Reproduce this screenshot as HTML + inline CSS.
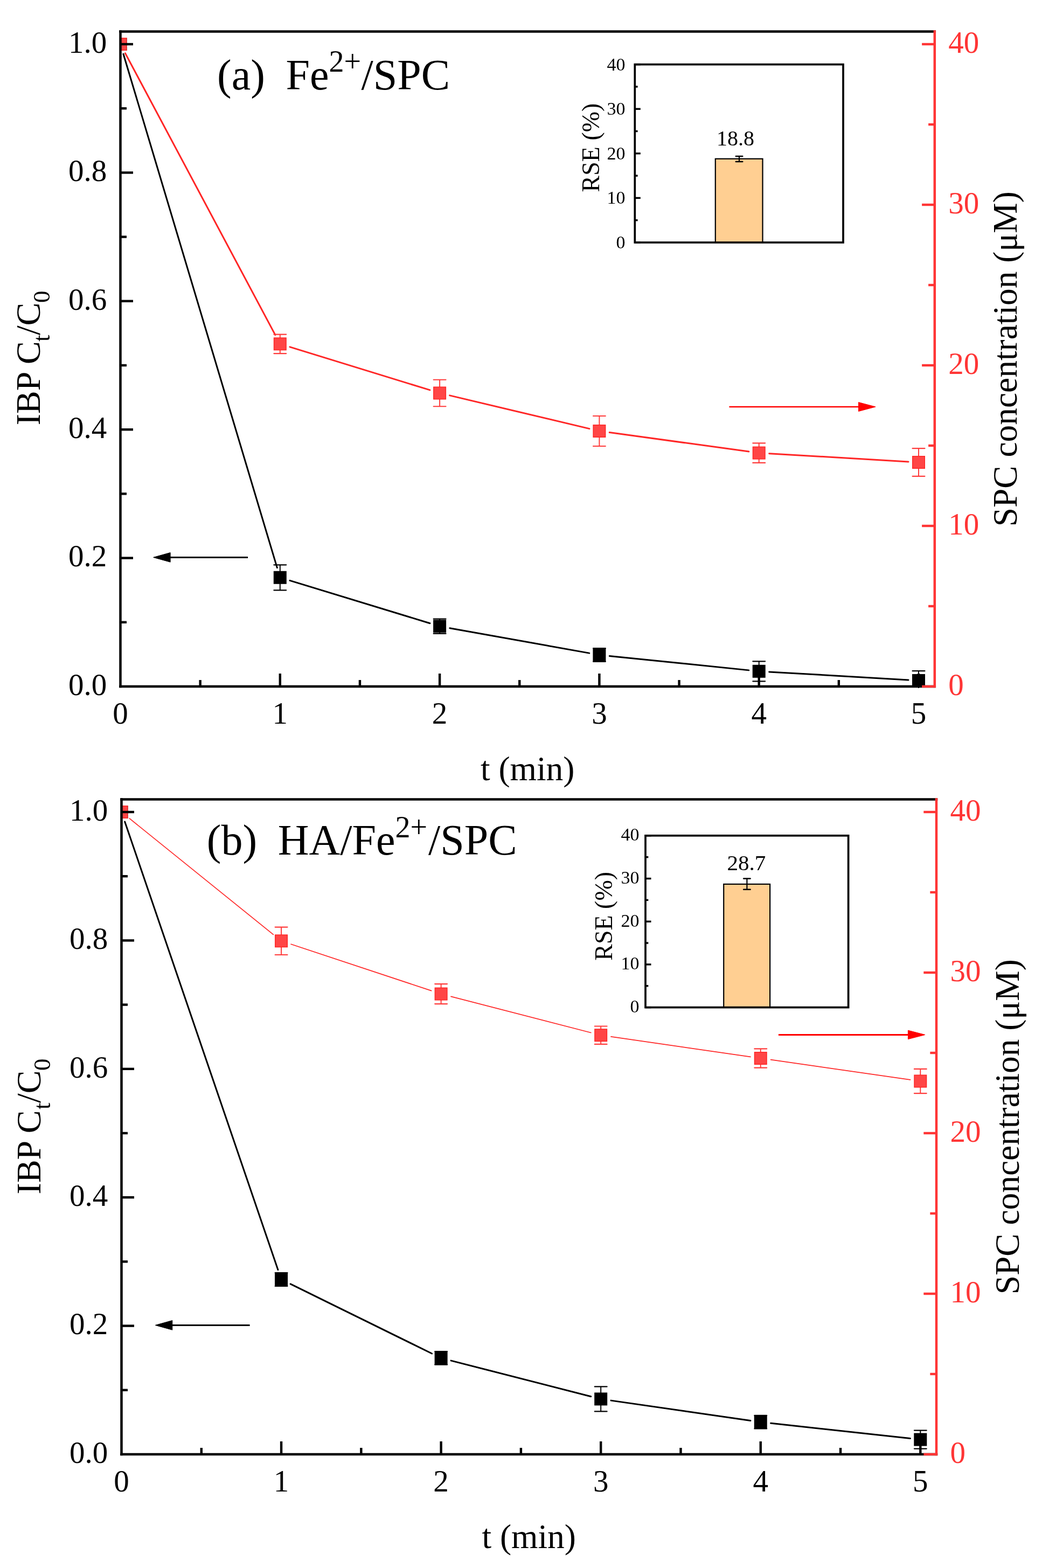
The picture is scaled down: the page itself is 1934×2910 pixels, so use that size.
<!DOCTYPE html>
<html><head><meta charset="utf-8"><title>IBP degradation</title>
<style>html,body{margin:0;padding:0;background:#fff;}svg{display:block;}text{font-family:'Liberation Serif','Times New Roman',serif;}</style>
</head><body>
<svg width="1934" height="2910" viewBox="0 0 1934 2910">
<rect x="0" y="0" width="1934" height="2910" fill="#fff"/>
<clipPath id="clipa"><rect x="223.5" y="58.4" width="1511.3" height="1218.6"/></clipPath>
<g clip-path="url(#clipa)">
<line x1="228.95" y1="100.2" x2="514.35" y2="1053.6" stroke="#000" stroke-width="3" stroke-linecap="round"/>
<line x1="537.97" y1="1077.35" x2="797.93" y2="1156.75" stroke="#000" stroke-width="3" stroke-linecap="round"/>
<line x1="834.8" y1="1165.66" x2="1093.7" y2="1212.14" stroke="#000" stroke-width="3" stroke-linecap="round"/>
<line x1="1131.3" y1="1217.43" x2="1389.8" y2="1243.87" stroke="#000" stroke-width="3" stroke-linecap="round"/>
<line x1="1427.67" y1="1246.9" x2="1686.03" y2="1261.9" stroke="#000" stroke-width="3" stroke-linecap="round"/>
<line x1="519.8" y1="1048.3" x2="519.8" y2="1095.3" stroke="#000" stroke-width="2" stroke-linecap="butt"/>
<line x1="508.4" y1="1048.3" x2="531.2" y2="1048.3" stroke="#000" stroke-width="2.2" stroke-linecap="round"/>
<line x1="508.4" y1="1095.3" x2="531.2" y2="1095.3" stroke="#000" stroke-width="2.2" stroke-linecap="round"/>
<line x1="816.1" y1="1148.7" x2="816.1" y2="1175.9" stroke="#000" stroke-width="2" stroke-linecap="butt"/>
<line x1="804.7" y1="1148.7" x2="827.5" y2="1148.7" stroke="#000" stroke-width="2.2" stroke-linecap="round"/>
<line x1="804.7" y1="1175.9" x2="827.5" y2="1175.9" stroke="#000" stroke-width="2.2" stroke-linecap="round"/>
<line x1="1112.4" y1="1203.2" x2="1112.4" y2="1227.8" stroke="#000" stroke-width="2" stroke-linecap="butt"/>
<line x1="1101" y1="1203.2" x2="1123.8" y2="1203.2" stroke="#000" stroke-width="2.2" stroke-linecap="round"/>
<line x1="1101" y1="1227.8" x2="1123.8" y2="1227.8" stroke="#000" stroke-width="2.2" stroke-linecap="round"/>
<line x1="1408.7" y1="1227.3" x2="1408.7" y2="1264.3" stroke="#000" stroke-width="2" stroke-linecap="butt"/>
<line x1="1397.3" y1="1227.3" x2="1420.1" y2="1227.3" stroke="#000" stroke-width="2.2" stroke-linecap="round"/>
<line x1="1397.3" y1="1264.3" x2="1420.1" y2="1264.3" stroke="#000" stroke-width="2.2" stroke-linecap="round"/>
<line x1="1705" y1="1245.2" x2="1705" y2="1280.8" stroke="#000" stroke-width="2" stroke-linecap="butt"/>
<line x1="1693.6" y1="1245.2" x2="1716.4" y2="1245.2" stroke="#000" stroke-width="2.2" stroke-linecap="round"/>
<line x1="1693.6" y1="1280.8" x2="1716.4" y2="1280.8" stroke="#000" stroke-width="2.2" stroke-linecap="round"/>
<rect x="211.5" y="70" width="24" height="24" fill="#000"/>
<rect x="507.8" y="1059.8" width="24" height="24" fill="#000"/>
<rect x="804.1" y="1150.3" width="24" height="24" fill="#000"/>
<rect x="1100.4" y="1203.5" width="24" height="24" fill="#000"/>
<rect x="1396.7" y="1233.8" width="24" height="24" fill="#000"/>
<rect x="1693" y="1251" width="24" height="24" fill="#000"/>
<line x1="232.43" y1="98.77" x2="510.87" y2="621.53" stroke="#ff2626" stroke-width="3" stroke-linecap="round"/>
<line x1="537.96" y1="643.89" x2="797.94" y2="723.91" stroke="#ff2626" stroke-width="3" stroke-linecap="round"/>
<line x1="834.58" y1="733.9" x2="1093.92" y2="795.6" stroke="#ff2626" stroke-width="3" stroke-linecap="round"/>
<line x1="1131.22" y1="802.58" x2="1389.88" y2="838.02" stroke="#ff2626" stroke-width="3" stroke-linecap="round"/>
<line x1="1427.67" y1="841.71" x2="1686.03" y2="856.89" stroke="#ff2626" stroke-width="3" stroke-linecap="round"/>
<line x1="519.8" y1="620.55" x2="519.8" y2="656.05" stroke="#ff3c3c" stroke-width="2" stroke-linecap="butt"/>
<line x1="508.4" y1="620.55" x2="531.2" y2="620.55" stroke="#ff3c3c" stroke-width="2.2" stroke-linecap="round"/>
<line x1="508.4" y1="656.05" x2="531.2" y2="656.05" stroke="#ff3c3c" stroke-width="2.2" stroke-linecap="round"/>
<line x1="816.1" y1="704.75" x2="816.1" y2="754.25" stroke="#ff3c3c" stroke-width="2" stroke-linecap="butt"/>
<line x1="804.7" y1="704.75" x2="827.5" y2="704.75" stroke="#ff3c3c" stroke-width="2.2" stroke-linecap="round"/>
<line x1="804.7" y1="754.25" x2="827.5" y2="754.25" stroke="#ff3c3c" stroke-width="2.2" stroke-linecap="round"/>
<line x1="1112.4" y1="772" x2="1112.4" y2="828" stroke="#ff3c3c" stroke-width="2" stroke-linecap="butt"/>
<line x1="1101" y1="772" x2="1123.8" y2="772" stroke="#ff3c3c" stroke-width="2.2" stroke-linecap="round"/>
<line x1="1101" y1="828" x2="1123.8" y2="828" stroke="#ff3c3c" stroke-width="2.2" stroke-linecap="round"/>
<line x1="1408.7" y1="822.3" x2="1408.7" y2="858.9" stroke="#ff3c3c" stroke-width="2" stroke-linecap="butt"/>
<line x1="1397.3" y1="822.3" x2="1420.1" y2="822.3" stroke="#ff3c3c" stroke-width="2.2" stroke-linecap="round"/>
<line x1="1397.3" y1="858.9" x2="1420.1" y2="858.9" stroke="#ff3c3c" stroke-width="2.2" stroke-linecap="round"/>
<line x1="1705" y1="832.2" x2="1705" y2="883.8" stroke="#ff3c3c" stroke-width="2" stroke-linecap="butt"/>
<line x1="1693.6" y1="832.2" x2="1716.4" y2="832.2" stroke="#ff3c3c" stroke-width="2.2" stroke-linecap="round"/>
<line x1="1693.6" y1="883.8" x2="1716.4" y2="883.8" stroke="#ff3c3c" stroke-width="2.2" stroke-linecap="round"/>
<rect x="212.25" y="70.75" width="22.5" height="22.5" fill="#ff4646" stroke="#ff2626" stroke-width="1.5"/>
<rect x="508.55" y="627.05" width="22.5" height="22.5" fill="#ff4646" stroke="#ff2626" stroke-width="1.5"/>
<rect x="804.85" y="718.25" width="22.5" height="22.5" fill="#ff4646" stroke="#ff2626" stroke-width="1.5"/>
<rect x="1101.15" y="788.75" width="22.5" height="22.5" fill="#ff4646" stroke="#ff2626" stroke-width="1.5"/>
<rect x="1397.45" y="829.35" width="22.5" height="22.5" fill="#ff4646" stroke="#ff2626" stroke-width="1.5"/>
<rect x="1693.75" y="846.75" width="22.5" height="22.5" fill="#ff4646" stroke="#ff2626" stroke-width="1.5"/>
</g>
<line x1="223.5" y1="1154.8" x2="235" y2="1154.8" stroke="#000" stroke-width="4.4" stroke-linecap="butt"/>
<line x1="223.5" y1="1035.6" x2="247" y2="1035.6" stroke="#000" stroke-width="4.4" stroke-linecap="butt"/>
<line x1="223.5" y1="916.4" x2="235" y2="916.4" stroke="#000" stroke-width="4.4" stroke-linecap="butt"/>
<line x1="223.5" y1="797.2" x2="247" y2="797.2" stroke="#000" stroke-width="4.4" stroke-linecap="butt"/>
<line x1="223.5" y1="678" x2="235" y2="678" stroke="#000" stroke-width="4.4" stroke-linecap="butt"/>
<line x1="223.5" y1="558.8" x2="247" y2="558.8" stroke="#000" stroke-width="4.4" stroke-linecap="butt"/>
<line x1="223.5" y1="439.6" x2="235" y2="439.6" stroke="#000" stroke-width="4.4" stroke-linecap="butt"/>
<line x1="223.5" y1="320.4" x2="247" y2="320.4" stroke="#000" stroke-width="4.4" stroke-linecap="butt"/>
<line x1="223.5" y1="201.2" x2="235" y2="201.2" stroke="#000" stroke-width="4.4" stroke-linecap="butt"/>
<line x1="223.5" y1="82" x2="247" y2="82" stroke="#000" stroke-width="4.4" stroke-linecap="butt"/>
<line x1="371.65" y1="1274" x2="371.65" y2="1262" stroke="#000" stroke-width="4.4" stroke-linecap="butt"/>
<line x1="519.8" y1="1274" x2="519.8" y2="1250" stroke="#000" stroke-width="4.4" stroke-linecap="butt"/>
<line x1="667.95" y1="1274" x2="667.95" y2="1262" stroke="#000" stroke-width="4.4" stroke-linecap="butt"/>
<line x1="816.1" y1="1274" x2="816.1" y2="1250" stroke="#000" stroke-width="4.4" stroke-linecap="butt"/>
<line x1="964.25" y1="1274" x2="964.25" y2="1262" stroke="#000" stroke-width="4.4" stroke-linecap="butt"/>
<line x1="1112.4" y1="1274" x2="1112.4" y2="1250" stroke="#000" stroke-width="4.4" stroke-linecap="butt"/>
<line x1="1260.55" y1="1274" x2="1260.55" y2="1262" stroke="#000" stroke-width="4.4" stroke-linecap="butt"/>
<line x1="1408.7" y1="1274" x2="1408.7" y2="1250" stroke="#000" stroke-width="4.4" stroke-linecap="butt"/>
<line x1="1556.85" y1="1274" x2="1556.85" y2="1262" stroke="#000" stroke-width="4.4" stroke-linecap="butt"/>
<line x1="1705" y1="1274" x2="1705" y2="1250" stroke="#000" stroke-width="4.4" stroke-linecap="butt"/>
<line x1="223.5" y1="58.4" x2="1734.8" y2="58.4" stroke="#000" stroke-width="4.5" stroke-linecap="square"/>
<line x1="223.5" y1="1274" x2="1734.8" y2="1274" stroke="#000" stroke-width="4.5" stroke-linecap="square"/>
<line x1="223.5" y1="58.4" x2="223.5" y2="1274" stroke="#000" stroke-width="4.5" stroke-linecap="square"/>
<line x1="1734.8" y1="1274" x2="1711.1" y2="1274" stroke="#ff3535" stroke-width="4.4" stroke-linecap="butt"/>
<line x1="1734.8" y1="1125" x2="1723.1" y2="1125" stroke="#ff3535" stroke-width="4.4" stroke-linecap="butt"/>
<line x1="1734.8" y1="976" x2="1711.1" y2="976" stroke="#ff3535" stroke-width="4.4" stroke-linecap="butt"/>
<line x1="1734.8" y1="827" x2="1723.1" y2="827" stroke="#ff3535" stroke-width="4.4" stroke-linecap="butt"/>
<line x1="1734.8" y1="678" x2="1711.1" y2="678" stroke="#ff3535" stroke-width="4.4" stroke-linecap="butt"/>
<line x1="1734.8" y1="529" x2="1723.1" y2="529" stroke="#ff3535" stroke-width="4.4" stroke-linecap="butt"/>
<line x1="1734.8" y1="380" x2="1711.1" y2="380" stroke="#ff3535" stroke-width="4.4" stroke-linecap="butt"/>
<line x1="1734.8" y1="231" x2="1723.1" y2="231" stroke="#ff3535" stroke-width="4.4" stroke-linecap="butt"/>
<line x1="1734.8" y1="82" x2="1711.1" y2="82" stroke="#ff3535" stroke-width="4.4" stroke-linecap="butt"/>
<line x1="1734.8" y1="56.15" x2="1734.8" y2="1276.25" stroke="#ff3535" stroke-width="4.5" stroke-linecap="butt"/>
<text x="198.2" y="1289.8" font-size="57" text-anchor="end" fill="#000">0.0</text>
<text x="198.2" y="1051.4" font-size="57" text-anchor="end" fill="#000">0.2</text>
<text x="198.2" y="813" font-size="57" text-anchor="end" fill="#000">0.4</text>
<text x="198.2" y="574.6" font-size="57" text-anchor="end" fill="#000">0.6</text>
<text x="198.2" y="336.2" font-size="57" text-anchor="end" fill="#000">0.8</text>
<text x="198.2" y="97.8" font-size="57" text-anchor="end" fill="#000">1.0</text>
<text x="223.5" y="1343" font-size="57" text-anchor="middle" fill="#000">0</text>
<text x="519.8" y="1343" font-size="57" text-anchor="middle" fill="#000">1</text>
<text x="816.1" y="1343" font-size="57" text-anchor="middle" fill="#000">2</text>
<text x="1112.4" y="1343" font-size="57" text-anchor="middle" fill="#000">3</text>
<text x="1408.7" y="1343" font-size="57" text-anchor="middle" fill="#000">4</text>
<text x="1705" y="1343" font-size="57" text-anchor="middle" fill="#000">5</text>
<text x="1760.3" y="1290.2" font-size="57" text-anchor="start" fill="#ff3535">0</text>
<text x="1760.3" y="992.2" font-size="57" text-anchor="start" fill="#ff3535">10</text>
<text x="1760.3" y="694.2" font-size="57" text-anchor="start" fill="#ff3535">20</text>
<text x="1760.3" y="396.2" font-size="57" text-anchor="start" fill="#ff3535">30</text>
<text x="1760.3" y="98.2" font-size="57" text-anchor="start" fill="#ff3535">40</text>
<line x1="315.1" y1="1034.4" x2="460" y2="1034.4" stroke="#000" stroke-width="3" stroke-linecap="butt"/>
<polygon points="284.6,1034.4 316.1,1025.6 316.1,1043.2" fill="#000" stroke="#000" stroke-width="1" stroke-linejoin="round"/>
<line x1="1353.4" y1="755" x2="1594.5" y2="755" stroke="#ff0000" stroke-width="2.7" stroke-linecap="butt"/>
<polygon points="1625,755 1593.5,746.6 1593.5,763.4" fill="#ff0000" stroke="#ff0000" stroke-width="1" stroke-linejoin="round"/>
<rect x="1327.8" y="294.71" width="87.7" height="155.29" fill="#ffcf92" stroke="#000" stroke-width="2.2"/>
<line x1="1372" y1="290" x2="1372" y2="300" stroke="#000" stroke-width="2.2" stroke-linecap="butt"/>
<line x1="1365.8" y1="290" x2="1378.2" y2="290" stroke="#000" stroke-width="2.6" stroke-linecap="round"/>
<line x1="1365.8" y1="300" x2="1378.2" y2="300" stroke="#000" stroke-width="2.6" stroke-linecap="round"/>
<line x1="1178.3" y1="450" x2="1188.8" y2="450" stroke="#000" stroke-width="3.4" stroke-linecap="butt"/>
<line x1="1178.3" y1="408.7" x2="1183.6" y2="408.7" stroke="#000" stroke-width="3.4" stroke-linecap="butt"/>
<line x1="1178.3" y1="367.4" x2="1188.8" y2="367.4" stroke="#000" stroke-width="3.4" stroke-linecap="butt"/>
<line x1="1178.3" y1="326.1" x2="1183.6" y2="326.1" stroke="#000" stroke-width="3.4" stroke-linecap="butt"/>
<line x1="1178.3" y1="284.8" x2="1188.8" y2="284.8" stroke="#000" stroke-width="3.4" stroke-linecap="butt"/>
<line x1="1178.3" y1="243.5" x2="1183.6" y2="243.5" stroke="#000" stroke-width="3.4" stroke-linecap="butt"/>
<line x1="1178.3" y1="202.2" x2="1188.8" y2="202.2" stroke="#000" stroke-width="3.4" stroke-linecap="butt"/>
<line x1="1178.3" y1="160.9" x2="1183.6" y2="160.9" stroke="#000" stroke-width="3.4" stroke-linecap="butt"/>
<line x1="1178.3" y1="119.6" x2="1188.8" y2="119.6" stroke="#000" stroke-width="3.4" stroke-linecap="butt"/>
<rect x="1178.3" y="119.6" width="386.7" height="330.4" fill="none" stroke="#000" stroke-width="3.7"/>
<text x="1160.5" y="461" font-size="34" text-anchor="end" fill="#000">0</text>
<text x="1160.5" y="378.4" font-size="34" text-anchor="end" fill="#000">10</text>
<text x="1160.5" y="295.8" font-size="34" text-anchor="end" fill="#000">20</text>
<text x="1160.5" y="213.2" font-size="34" text-anchor="end" fill="#000">30</text>
<text x="1160.5" y="130.6" font-size="34" text-anchor="end" fill="#000">40</text>
<text transform="translate(1111.7,274) rotate(-90)" font-size="46" text-anchor="middle" fill="#000">RSE (%)</text>
<text x="1365" y="270" font-size="40" text-anchor="middle" fill="#000">18.8</text>
<text x="403" y="165.5" font-size="80" text-anchor="start" fill="#000">(a)</text>
<text x="530.5" y="165.5" font-size="80" text-anchor="start" fill="#000">Fe</text>
<text x="610.5" y="133" font-size="56" text-anchor="start" fill="#000">2+</text>
<text x="670.5" y="165.5" font-size="80" text-anchor="start" fill="#000">/SPC</text>
<text x="979.2" y="1447.5" font-size="63.5" text-anchor="middle" fill="#000">t (min)</text>
<text transform="translate(74,789.3) rotate(-90)" font-size="64" text-anchor="start" fill="#000">IBP C</text>
<text transform="translate(91.6,634) rotate(-90)" font-size="45" text-anchor="start" fill="#000">t</text>
<text transform="translate(74,622) rotate(-90)" font-size="64" text-anchor="start" fill="#000">/C</text>
<text transform="translate(91.6,562) rotate(-90)" font-size="45" text-anchor="start" fill="#000">0</text>
<text transform="translate(1887.3,666.2) rotate(-90)" font-size="63.4" text-anchor="middle" fill="#000">SPC concentration (μM)</text>
<clipPath id="clipb"><rect x="225.5" y="1483.4" width="1512.5" height="1218.6"/></clipPath>
<g clip-path="url(#clipb)">
<line x1="231.65" y1="1524.98" x2="515.91" y2="2356.52" stroke="#000" stroke-width="3" stroke-linecap="round"/>
<line x1="539.11" y1="2382.89" x2="801.57" y2="2512.01" stroke="#000" stroke-width="3" stroke-linecap="round"/>
<line x1="837.03" y1="2525.12" x2="1096.77" y2="2591.68" stroke="#000" stroke-width="3" stroke-linecap="round"/>
<line x1="1133.99" y1="2599.11" x2="1392.93" y2="2636.49" stroke="#000" stroke-width="3" stroke-linecap="round"/>
<line x1="1430.63" y1="2641.26" x2="1689.41" y2="2669.54" stroke="#000" stroke-width="3" stroke-linecap="round"/>
<line x1="522.06" y1="2362" x2="522.06" y2="2387" stroke="#000" stroke-width="2" stroke-linecap="butt"/>
<line x1="510.66" y1="2362" x2="533.46" y2="2362" stroke="#000" stroke-width="2.2" stroke-linecap="round"/>
<line x1="510.66" y1="2387" x2="533.46" y2="2387" stroke="#000" stroke-width="2.2" stroke-linecap="round"/>
<line x1="818.62" y1="2508.1" x2="818.62" y2="2532.7" stroke="#000" stroke-width="2" stroke-linecap="butt"/>
<line x1="807.22" y1="2508.1" x2="830.02" y2="2508.1" stroke="#000" stroke-width="2.2" stroke-linecap="round"/>
<line x1="807.22" y1="2532.7" x2="830.02" y2="2532.7" stroke="#000" stroke-width="2.2" stroke-linecap="round"/>
<line x1="1115.18" y1="2573.4" x2="1115.18" y2="2619.4" stroke="#000" stroke-width="2" stroke-linecap="butt"/>
<line x1="1103.78" y1="2573.4" x2="1126.58" y2="2573.4" stroke="#000" stroke-width="2.2" stroke-linecap="round"/>
<line x1="1103.78" y1="2619.4" x2="1126.58" y2="2619.4" stroke="#000" stroke-width="2.2" stroke-linecap="round"/>
<line x1="1411.74" y1="2626.9" x2="1411.74" y2="2651.5" stroke="#000" stroke-width="2" stroke-linecap="butt"/>
<line x1="1400.34" y1="2626.9" x2="1423.14" y2="2626.9" stroke="#000" stroke-width="2.2" stroke-linecap="round"/>
<line x1="1400.34" y1="2651.5" x2="1423.14" y2="2651.5" stroke="#000" stroke-width="2.2" stroke-linecap="round"/>
<line x1="1708.3" y1="2654.6" x2="1708.3" y2="2688.6" stroke="#000" stroke-width="2" stroke-linecap="butt"/>
<line x1="1696.9" y1="2654.6" x2="1719.7" y2="2654.6" stroke="#000" stroke-width="2.2" stroke-linecap="round"/>
<line x1="1696.9" y1="2688.6" x2="1719.7" y2="2688.6" stroke="#000" stroke-width="2.2" stroke-linecap="round"/>
<rect x="213.5" y="1495" width="24" height="24" fill="#000"/>
<rect x="510.06" y="2362.5" width="24" height="24" fill="#000"/>
<rect x="806.62" y="2508.4" width="24" height="24" fill="#000"/>
<rect x="1103.18" y="2584.4" width="24" height="24" fill="#000"/>
<rect x="1399.74" y="2627.2" width="24" height="24" fill="#000"/>
<rect x="1696.3" y="2659.6" width="24" height="24" fill="#000"/>
<line x1="240.29" y1="1518.93" x2="507.27" y2="1734.37" stroke="#ff2626" stroke-width="1.7" stroke-linecap="round"/>
<line x1="540.1" y1="1752.28" x2="800.58" y2="1838.62" stroke="#ff2626" stroke-width="1.7" stroke-linecap="round"/>
<line x1="837.02" y1="1849.35" x2="1096.78" y2="1916.45" stroke="#ff2626" stroke-width="1.7" stroke-linecap="round"/>
<line x1="1133.99" y1="1923.91" x2="1392.93" y2="1961.29" stroke="#ff2626" stroke-width="1.7" stroke-linecap="round"/>
<line x1="1430.55" y1="1966.7" x2="1689.49" y2="2003.8" stroke="#ff2626" stroke-width="1.7" stroke-linecap="round"/>
<line x1="522.06" y1="1720.6" x2="522.06" y2="1772" stroke="#ff3c3c" stroke-width="2" stroke-linecap="butt"/>
<line x1="510.66" y1="1720.6" x2="533.46" y2="1720.6" stroke="#ff3c3c" stroke-width="2.2" stroke-linecap="round"/>
<line x1="510.66" y1="1772" x2="533.46" y2="1772" stroke="#ff3c3c" stroke-width="2.2" stroke-linecap="round"/>
<line x1="818.62" y1="1826.1" x2="818.62" y2="1863.1" stroke="#ff3c3c" stroke-width="2" stroke-linecap="butt"/>
<line x1="807.22" y1="1826.1" x2="830.02" y2="1826.1" stroke="#ff3c3c" stroke-width="2.2" stroke-linecap="round"/>
<line x1="807.22" y1="1863.1" x2="830.02" y2="1863.1" stroke="#ff3c3c" stroke-width="2.2" stroke-linecap="round"/>
<line x1="1115.18" y1="1904.5" x2="1115.18" y2="1937.9" stroke="#ff3c3c" stroke-width="2" stroke-linecap="butt"/>
<line x1="1103.78" y1="1904.5" x2="1126.58" y2="1904.5" stroke="#ff3c3c" stroke-width="2.2" stroke-linecap="round"/>
<line x1="1103.78" y1="1937.9" x2="1126.58" y2="1937.9" stroke="#ff3c3c" stroke-width="2.2" stroke-linecap="round"/>
<line x1="1411.74" y1="1946.4" x2="1411.74" y2="1981.6" stroke="#ff3c3c" stroke-width="2" stroke-linecap="butt"/>
<line x1="1400.34" y1="1946.4" x2="1423.14" y2="1946.4" stroke="#ff3c3c" stroke-width="2.2" stroke-linecap="round"/>
<line x1="1400.34" y1="1981.6" x2="1423.14" y2="1981.6" stroke="#ff3c3c" stroke-width="2.2" stroke-linecap="round"/>
<line x1="1708.3" y1="1983.9" x2="1708.3" y2="2029.1" stroke="#ff3c3c" stroke-width="2" stroke-linecap="butt"/>
<line x1="1696.9" y1="1983.9" x2="1719.7" y2="1983.9" stroke="#ff3c3c" stroke-width="2.2" stroke-linecap="round"/>
<line x1="1696.9" y1="2029.1" x2="1719.7" y2="2029.1" stroke="#ff3c3c" stroke-width="2.2" stroke-linecap="round"/>
<rect x="214.25" y="1495.75" width="22.5" height="22.5" fill="#ff4646" stroke="#ff2626" stroke-width="1.5"/>
<rect x="510.81" y="1735.05" width="22.5" height="22.5" fill="#ff4646" stroke="#ff2626" stroke-width="1.5"/>
<rect x="807.37" y="1833.35" width="22.5" height="22.5" fill="#ff4646" stroke="#ff2626" stroke-width="1.5"/>
<rect x="1103.93" y="1909.95" width="22.5" height="22.5" fill="#ff4646" stroke="#ff2626" stroke-width="1.5"/>
<rect x="1400.49" y="1952.75" width="22.5" height="22.5" fill="#ff4646" stroke="#ff2626" stroke-width="1.5"/>
<rect x="1697.05" y="1995.25" width="22.5" height="22.5" fill="#ff4646" stroke="#ff2626" stroke-width="1.5"/>
</g>
<line x1="225.5" y1="2579.8" x2="237" y2="2579.8" stroke="#000" stroke-width="4.4" stroke-linecap="butt"/>
<line x1="225.5" y1="2460.6" x2="249" y2="2460.6" stroke="#000" stroke-width="4.4" stroke-linecap="butt"/>
<line x1="225.5" y1="2341.4" x2="237" y2="2341.4" stroke="#000" stroke-width="4.4" stroke-linecap="butt"/>
<line x1="225.5" y1="2222.2" x2="249" y2="2222.2" stroke="#000" stroke-width="4.4" stroke-linecap="butt"/>
<line x1="225.5" y1="2103" x2="237" y2="2103" stroke="#000" stroke-width="4.4" stroke-linecap="butt"/>
<line x1="225.5" y1="1983.8" x2="249" y2="1983.8" stroke="#000" stroke-width="4.4" stroke-linecap="butt"/>
<line x1="225.5" y1="1864.6" x2="237" y2="1864.6" stroke="#000" stroke-width="4.4" stroke-linecap="butt"/>
<line x1="225.5" y1="1745.4" x2="249" y2="1745.4" stroke="#000" stroke-width="4.4" stroke-linecap="butt"/>
<line x1="225.5" y1="1626.2" x2="237" y2="1626.2" stroke="#000" stroke-width="4.4" stroke-linecap="butt"/>
<line x1="225.5" y1="1507" x2="249" y2="1507" stroke="#000" stroke-width="4.4" stroke-linecap="butt"/>
<line x1="373.78" y1="2699" x2="373.78" y2="2687" stroke="#000" stroke-width="4.4" stroke-linecap="butt"/>
<line x1="522.06" y1="2699" x2="522.06" y2="2675" stroke="#000" stroke-width="4.4" stroke-linecap="butt"/>
<line x1="670.34" y1="2699" x2="670.34" y2="2687" stroke="#000" stroke-width="4.4" stroke-linecap="butt"/>
<line x1="818.62" y1="2699" x2="818.62" y2="2675" stroke="#000" stroke-width="4.4" stroke-linecap="butt"/>
<line x1="966.9" y1="2699" x2="966.9" y2="2687" stroke="#000" stroke-width="4.4" stroke-linecap="butt"/>
<line x1="1115.18" y1="2699" x2="1115.18" y2="2675" stroke="#000" stroke-width="4.4" stroke-linecap="butt"/>
<line x1="1263.46" y1="2699" x2="1263.46" y2="2687" stroke="#000" stroke-width="4.4" stroke-linecap="butt"/>
<line x1="1411.74" y1="2699" x2="1411.74" y2="2675" stroke="#000" stroke-width="4.4" stroke-linecap="butt"/>
<line x1="1560.02" y1="2699" x2="1560.02" y2="2687" stroke="#000" stroke-width="4.4" stroke-linecap="butt"/>
<line x1="1708.3" y1="2699" x2="1708.3" y2="2675" stroke="#000" stroke-width="4.4" stroke-linecap="butt"/>
<line x1="225.5" y1="1483.4" x2="1738" y2="1483.4" stroke="#000" stroke-width="4.5" stroke-linecap="square"/>
<line x1="225.5" y1="2699" x2="1738" y2="2699" stroke="#000" stroke-width="4.5" stroke-linecap="square"/>
<line x1="225.5" y1="1483.4" x2="225.5" y2="2699" stroke="#000" stroke-width="4.5" stroke-linecap="square"/>
<line x1="1738" y1="2699" x2="1714.3" y2="2699" stroke="#ff3535" stroke-width="4.4" stroke-linecap="butt"/>
<line x1="1738" y1="2550" x2="1726.3" y2="2550" stroke="#ff3535" stroke-width="4.4" stroke-linecap="butt"/>
<line x1="1738" y1="2401" x2="1714.3" y2="2401" stroke="#ff3535" stroke-width="4.4" stroke-linecap="butt"/>
<line x1="1738" y1="2252" x2="1726.3" y2="2252" stroke="#ff3535" stroke-width="4.4" stroke-linecap="butt"/>
<line x1="1738" y1="2103" x2="1714.3" y2="2103" stroke="#ff3535" stroke-width="4.4" stroke-linecap="butt"/>
<line x1="1738" y1="1954" x2="1726.3" y2="1954" stroke="#ff3535" stroke-width="4.4" stroke-linecap="butt"/>
<line x1="1738" y1="1805" x2="1714.3" y2="1805" stroke="#ff3535" stroke-width="4.4" stroke-linecap="butt"/>
<line x1="1738" y1="1656" x2="1726.3" y2="1656" stroke="#ff3535" stroke-width="4.4" stroke-linecap="butt"/>
<line x1="1738" y1="1507" x2="1714.3" y2="1507" stroke="#ff3535" stroke-width="4.4" stroke-linecap="butt"/>
<line x1="1738" y1="1481.15" x2="1738" y2="2701.25" stroke="#ff3535" stroke-width="4.5" stroke-linecap="butt"/>
<text x="200.2" y="2714.8" font-size="57" text-anchor="end" fill="#000">0.0</text>
<text x="200.2" y="2476.4" font-size="57" text-anchor="end" fill="#000">0.2</text>
<text x="200.2" y="2238" font-size="57" text-anchor="end" fill="#000">0.4</text>
<text x="200.2" y="1999.6" font-size="57" text-anchor="end" fill="#000">0.6</text>
<text x="200.2" y="1761.2" font-size="57" text-anchor="end" fill="#000">0.8</text>
<text x="200.2" y="1522.8" font-size="57" text-anchor="end" fill="#000">1.0</text>
<text x="225.5" y="2768" font-size="57" text-anchor="middle" fill="#000">0</text>
<text x="522.06" y="2768" font-size="57" text-anchor="middle" fill="#000">1</text>
<text x="818.62" y="2768" font-size="57" text-anchor="middle" fill="#000">2</text>
<text x="1115.18" y="2768" font-size="57" text-anchor="middle" fill="#000">3</text>
<text x="1411.74" y="2768" font-size="57" text-anchor="middle" fill="#000">4</text>
<text x="1708.3" y="2768" font-size="57" text-anchor="middle" fill="#000">5</text>
<text x="1763.5" y="2715.2" font-size="57" text-anchor="start" fill="#ff3535">0</text>
<text x="1763.5" y="2417.2" font-size="57" text-anchor="start" fill="#ff3535">10</text>
<text x="1763.5" y="2119.2" font-size="57" text-anchor="start" fill="#ff3535">20</text>
<text x="1763.5" y="1821.2" font-size="57" text-anchor="start" fill="#ff3535">30</text>
<text x="1763.5" y="1523.2" font-size="57" text-anchor="start" fill="#ff3535">40</text>
<line x1="318.8" y1="2459.4" x2="463.6" y2="2459.4" stroke="#000" stroke-width="3" stroke-linecap="butt"/>
<polygon points="288.2,2459.4 319.8,2450.6 319.8,2468.2" fill="#000" stroke="#000" stroke-width="1" stroke-linejoin="round"/>
<line x1="1444.9" y1="1920.4" x2="1686.4" y2="1920.4" stroke="#ff0000" stroke-width="3" stroke-linecap="butt"/>
<polygon points="1717,1920.4 1685.4,1912.2 1685.4,1928.6" fill="#ff0000" stroke="#ff0000" stroke-width="1" stroke-linejoin="round"/>
<rect x="1343.2" y="1640.86" width="85.9" height="228.74" fill="#ffcf92" stroke="#000" stroke-width="2.2"/>
<line x1="1386.4" y1="1630.5" x2="1386.4" y2="1650.8" stroke="#000" stroke-width="2.2" stroke-linecap="butt"/>
<line x1="1380.2" y1="1630.5" x2="1392.6" y2="1630.5" stroke="#000" stroke-width="2.6" stroke-linecap="round"/>
<line x1="1380.2" y1="1650.8" x2="1392.6" y2="1650.8" stroke="#000" stroke-width="2.6" stroke-linecap="round"/>
<line x1="1198" y1="1869.6" x2="1208.5" y2="1869.6" stroke="#000" stroke-width="3.4" stroke-linecap="butt"/>
<line x1="1198" y1="1829.75" x2="1203.3" y2="1829.75" stroke="#000" stroke-width="3.4" stroke-linecap="butt"/>
<line x1="1198" y1="1789.9" x2="1208.5" y2="1789.9" stroke="#000" stroke-width="3.4" stroke-linecap="butt"/>
<line x1="1198" y1="1750.05" x2="1203.3" y2="1750.05" stroke="#000" stroke-width="3.4" stroke-linecap="butt"/>
<line x1="1198" y1="1710.2" x2="1208.5" y2="1710.2" stroke="#000" stroke-width="3.4" stroke-linecap="butt"/>
<line x1="1198" y1="1670.35" x2="1203.3" y2="1670.35" stroke="#000" stroke-width="3.4" stroke-linecap="butt"/>
<line x1="1198" y1="1630.5" x2="1208.5" y2="1630.5" stroke="#000" stroke-width="3.4" stroke-linecap="butt"/>
<line x1="1198" y1="1590.65" x2="1203.3" y2="1590.65" stroke="#000" stroke-width="3.4" stroke-linecap="butt"/>
<line x1="1198" y1="1550.8" x2="1208.5" y2="1550.8" stroke="#000" stroke-width="3.4" stroke-linecap="butt"/>
<rect x="1198" y="1550.8" width="376.6" height="318.8" fill="none" stroke="#000" stroke-width="3.7"/>
<text x="1186.5" y="1879" font-size="34" text-anchor="end" fill="#000">0</text>
<text x="1186.5" y="1799.3" font-size="34" text-anchor="end" fill="#000">10</text>
<text x="1186.5" y="1719.6" font-size="34" text-anchor="end" fill="#000">20</text>
<text x="1186.5" y="1639.9" font-size="34" text-anchor="end" fill="#000">30</text>
<text x="1186.5" y="1560.2" font-size="34" text-anchor="end" fill="#000">40</text>
<text transform="translate(1135.8,1700.4) rotate(-90)" font-size="46" text-anchor="middle" fill="#000">RSE (%)</text>
<text x="1385.3" y="1615" font-size="41" text-anchor="middle" fill="#000">28.7</text>
<text x="383.8" y="1586" font-size="80" text-anchor="start" fill="#000">(b)</text>
<text x="515.8" y="1586" font-size="80" text-anchor="start" fill="#000">HA/Fe</text>
<text x="733.5" y="1554" font-size="56" text-anchor="start" fill="#000">2+</text>
<text x="795" y="1586" font-size="80" text-anchor="start" fill="#000">/SPC</text>
<text x="981.7" y="2872.5" font-size="63.5" text-anchor="middle" fill="#000">t (min)</text>
<text transform="translate(75,2216.4) rotate(-90)" font-size="64" text-anchor="start" fill="#000">IBP C</text>
<text transform="translate(92.6,2059) rotate(-90)" font-size="45" text-anchor="start" fill="#000">t</text>
<text transform="translate(75,2047) rotate(-90)" font-size="64" text-anchor="start" fill="#000">/C</text>
<text transform="translate(92.6,1987) rotate(-90)" font-size="45" text-anchor="start" fill="#000">0</text>
<text transform="translate(1890.6,2091.2) rotate(-90)" font-size="63.4" text-anchor="middle" fill="#000">SPC concentration (μM)</text>
</svg>
</body></html>
